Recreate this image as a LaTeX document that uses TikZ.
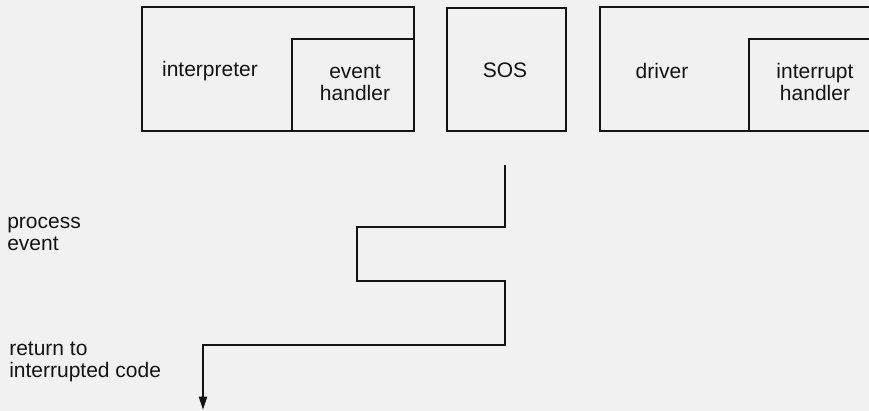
\documentclass[tikz,border=0pt]{standalone}
\usepackage{fontspec}
\setmainfont{Liberation Sans}
\usetikzlibrary{arrows.meta,fit}
\definecolor{paper}{RGB}{241,241,242}
\definecolor{ink}{RGB}{20,20,20}

\begin{document}
\begin{tikzpicture}[x=0.75pt,y=-0.75pt,
    box/.style={draw=ink,line width=1.7pt,inner sep=0pt},
    lbl/.style={font=\fontsize{15.75}{16.5}\selectfont,text=ink,align=center,anchor=base,inner sep=0pt},
    side/.style={font=\fontsize{15.75}{16}\selectfont,text=ink,align=left,anchor=base west,inner sep=0pt},
    flow/.style={draw=ink,line width=1.4pt}]
  \fill[paper] (0,0) rectangle (869,411);
  \useasboundingbox (0,0) rectangle (869,411);
  \clip (0,0) rectangle (869,411);
  % boxes
  \foreach \nm/\xa/\ya/\xb/\yb in {
    interp/142/7/414/131,
    evh/292/39/414/131,
    sos/447/8/566/131,
    drv/600/7/880/131,
    irq/749/39/880/131}{
    \node[box,fit={(\xa,\ya) (\xb,\yb)}] (\nm) {};
  }
  % labels (base = last line)
  \node[lbl] (interpL) at (210,76) {interpreter};
  \node[lbl] (evhL) at (355,100) {event\\handler};
  \node[lbl] (sosL) at (505,77) {SOS};
  \node[lbl] (drvL) at (662,78) {driver};
  \node[lbl] (irqL) at (815,100) {interrupt\\handler};
  \node[side] (procL) at (7,250) {process\\event};
  \node[side] (retL) at (9,377) {return to\\interrupted code};
  % control flow
  \coordinate (top) at (505,165);
  \coordinate (k1) at (357,227);
  \coordinate (k2) at (505,281);
  \coordinate (k3) at (203,345);
  \coordinate (tip) at (203,410);
  \draw[flow,-{Triangle[length=10pt,width=6pt]}] (top) |- (k1) |- (k2) |- (k3) -- (tip);
\end{tikzpicture}
\end{document}
